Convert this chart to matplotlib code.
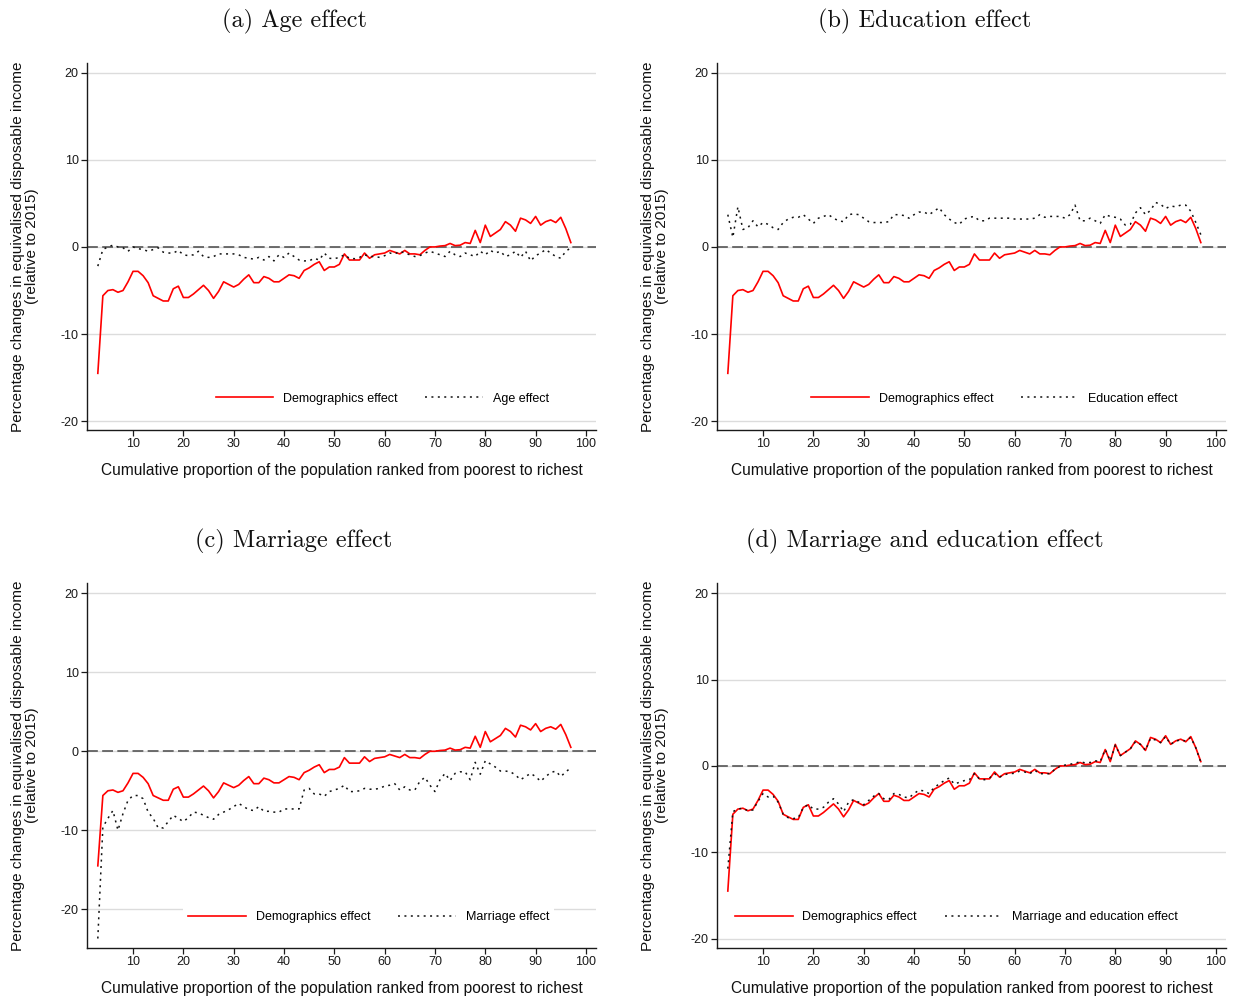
import matplotlib
matplotlib.use("Agg")
import matplotlib.pyplot as plt
import numpy as np

plt.rcParams['font.family'] = ['Liberation Sans', 'DejaVu Sans']
plt.rcParams['axes.unicode_minus'] = False

percentile = list(range(3, 98))

demographics = [-14.5, -5.6, -5.0, -4.9, -5.2, -5.0, -4.0, -2.8, -2.8, -3.3,
                -4.1, -5.6, -5.9, -6.2, -6.2, -4.8, -4.5, -5.8, -5.8, -5.4,
                -4.9, -4.4, -5.0, -5.9, -5.1, -4.0, -4.3, -4.6, -4.3, -3.7,
                -3.2, -4.1, -4.1, -3.4, -3.6, -4.0, -4.0, -3.6, -3.2, -3.3,
                -3.6, -2.7, -2.4, -2.0, -1.7, -2.7, -2.3, -2.3, -2.0, -0.8,
                -1.5, -1.5, -1.5, -0.7, -1.3, -0.9, -0.8, -0.7, -0.4, -0.6,
                -0.8, -0.4, -0.8, -0.8, -0.9, -0.4, 0.0, 0.0, 0.1, 0.15,
                0.4, 0.15, 0.2, 0.5, 0.4, 1.9, 0.5, 2.5, 1.2, 1.6,
                2.0, 2.9, 2.5, 1.8, 3.3, 3.1, 2.7, 3.5, 2.5, 2.9,
                3.1, 2.8, 3.4, 2.1, 0.5]

age_effect = [-2.2, -0.3, 0.0, 0.2, 0.0, -0.1, -0.5, 0.0, -0.2, -0.3,
              -0.5, -0.3, -0.1, -0.6, -0.7, -0.7, -0.4, -0.9, -1.0, -0.9,
              -0.5, -1.1, -1.2, -1.1, -0.8, -0.8, -0.8, -0.8, -0.9, -1.2,
              -1.3, -1.4, -1.2, -1.5, -1.1, -1.6, -0.9, -1.2, -0.7, -1.1,
              -1.5, -1.6, -1.6, -1.3, -1.5, -0.7, -1.3, -1.35, -1.2, -0.9,
              -1.3, -1.35, -1.2, -0.9, -1.1, -1.1, -1.2, -1.0, -0.7, -0.8,
              -0.5, -0.7, -0.9, -1.1, -1.0, -0.7, -0.5, -0.7, -0.9, -1.1,
              -0.5, -0.9, -1.1, -0.7, -0.9, -1.1, -0.5, -0.9, -0.4, -0.7,
              -0.5, -1.1, -0.9, -0.5, -1.2, -0.5, -1.6, -1.0, -0.7, -0.3,
              -0.7, -1.1, -1.3, -0.5, -0.1]

education_effect = [3.7, 1.1, 4.6, 2.0, 2.2, 3.0, 2.3, 2.8, 2.6, 2.2,
                    2.0, 2.8, 3.2, 3.4, 3.4, 3.7, 3.2, 2.7, 3.3, 3.5,
                    3.7, 3.3, 3.0, 2.9, 3.7, 3.8, 3.7, 3.3, 2.9, 2.8,
                    2.8, 2.8, 2.9, 3.7, 3.7, 3.6, 3.3, 3.7, 4.0, 4.0,
                    3.7, 4.1, 4.5, 3.7, 3.2, 2.8, 2.6, 3.2, 3.4, 3.5,
                    3.0, 3.0, 3.3, 3.3, 3.3, 3.3, 3.3, 3.2, 3.2, 3.2,
                    3.2, 3.3, 3.7, 3.4, 3.5, 3.5, 3.5, 3.3, 3.7, 4.8,
                    3.0, 3.0, 3.3, 3.0, 2.7, 3.7, 3.5, 3.4, 3.2, 2.5,
                    2.6, 3.9, 4.5, 3.7, 4.2, 5.1, 4.9, 4.4, 4.7, 4.6,
                    4.8, 4.8, 4.1, 2.8, 1.4]

marriage_effect = [-23.7, -9.6, -8.5, -7.5, -10.0, -7.9, -6.2, -5.6, -5.6, -6.0,
                   -7.7, -8.5, -9.7, -9.7, -8.9, -8.1, -8.5, -8.9, -8.4, -7.7,
                   -7.8, -8.1, -8.4, -8.6, -8.0, -7.7, -7.4, -7.0, -6.6, -7.0,
                   -7.4, -7.5, -7.0, -7.6, -7.6, -7.7, -7.7, -7.3, -7.3, -7.3,
                   -7.3, -4.9, -4.7, -5.4, -5.4, -5.7, -5.1, -4.9, -4.7, -4.3,
                   -5.1, -5.1, -5.0, -4.7, -4.8, -4.8, -4.7, -4.4, -4.3, -4.1,
                   -4.9, -4.5, -4.9, -4.9, -3.8, -3.3, -4.3, -5.1, -3.6, -2.8,
                   -3.7, -2.8, -2.6, -2.6, -3.6, -1.4, -2.9, -1.2, -1.6, -2.0,
                   -2.5, -2.5, -2.6, -3.0, -3.6, -3.2, -2.8, -3.2, -3.8, -3.2,
                   -2.7, -2.5, -3.2, -2.6, -2.1]

marriage_education_effect = [-11.9, -5.3, -5.0, -4.9, -5.2, -5.1, -4.1, -3.2, -3.6, -3.5,
                             -4.2, -5.6, -6.0, -6.1, -6.0, -4.8, -4.5, -5.0, -5.0, -4.8,
                             -4.2, -3.8, -4.4, -5.3, -4.2, -3.9, -4.2, -4.5, -4.0, -3.5,
                             -3.2, -3.8, -3.9, -3.2, -3.3, -3.6, -3.7, -3.2, -2.8, -2.9,
                             -3.2, -2.5, -2.1, -1.7, -1.4, -2.1, -1.9, -1.7, -1.6, -0.9,
                             -1.5, -1.6, -1.4, -0.9, -1.3, -1.0, -0.9, -0.85, -0.6, -0.7,
                             -0.9, -0.5, -0.9, -0.9, -0.9, -0.4, -0.05, 0.1, 0.2, 0.3,
                             0.5, 0.35, 0.4, 0.6, 0.5, 1.9, 0.6, 2.4, 1.2, 1.6,
                             2.0, 2.8, 2.5, 1.8, 3.2, 3.0, 2.7, 3.4, 2.5, 2.9,
                             3.0, 2.9, 3.3, 2.1, 0.4]

titles = ["(a) Age effect", "(b) Education effect",
          "(c) Marriage effect", "(d) Marriage and education effect"]
effect_labels = ["Age effect", "Education effect", "Marriage effect",
                 "Marriage and education effect"]
effects = [age_effect, education_effect, marriage_effect, marriage_education_effect]
x_ticks = [10, 20, 30, 40, 50, 60, 70, 80, 90, 100]
y_ticks = [-20, -10, 0, 10, 20]
x_label = "Cumulative proportion of the population ranked from poorest to richest"
y_label = "Percentage changes in equivalised disposable income\n(relative to 2015)"

W, H = 1235, 1005
fig = plt.figure(figsize=(W / 100, H / 100), dpi=100)

# pixel boxes: left, right, top, bottom
boxes = [(87, 596, 63, 430), (717, 1226, 63, 430),
         (87, 596, 583, 948), (717, 1226, 583, 948)]
ylims = [(-21.0, 21.1), (-21.0, 21.1), (-24.9, 21.3), (-21.1, 21.2)]
title_x = [295, 925, 294, 925]
title_y = [21, 21, 541, 541]
legend_right = [548, 1177, 548, 1177]

for i in range(4):
    l, r, t, b = boxes[i]
    ax = fig.add_axes([l / W, 1 - b / H, (r - l) / W, (b - t) / H])
    ax.set_xlim(0.85, 102)
    ax.set_ylim(*ylims[i])
    ax.set_yticks(y_ticks)
    ax.set_xticks(x_ticks)
    ax.grid(axis='y', color='#dcdcdc', linewidth=1.0, zorder=0)
    ax.set_axisbelow(True)
    for s in ['top', 'right']:
        ax.spines[s].set_visible(False)
    for s in ['left', 'bottom']:
        ax.spines[s].set_color('#1a1a1a')
        ax.spines[s].set_linewidth(1.0)
    ax.tick_params(axis='both', labelsize=9, colors='#1a1a1a', length=4, width=0.9, pad=2)

    ax.axhline(0, color='#555555', linewidth=1.2, linestyle=(0, (6.5, 2.6)), zorder=2)
    ax.plot(percentile, demographics, color='#ff0000', linewidth=1.2,
            label='Demographics effect', zorder=3)
    ax.plot(percentile, effects[i], color='#111111', linewidth=1.1,
            linestyle=(0, (1.3, 2.9)), label=effect_labels[i], zorder=4)

    leg = ax.legend(loc='center right',
                    bbox_to_anchor=((legend_right[i] - l + 6) / (r - l), 0.085),
                    ncol=2, fontsize=9, frameon=True, handlelength=4.6,
                    handletextpad=0.8, columnspacing=2.2, borderpad=0.4,
                    borderaxespad=0)
    leg.get_frame().set_facecolor('white')
    leg.get_frame().set_edgecolor('none')
    leg.get_frame().set_alpha(1.0)

    fig.text(title_x[i] / W, 1 - title_y[i] / H, titles[i], fontfamily='cmr10',
             fontsize=17.5, ha='center', va='center', color='#111111')
    fig.text((l + r) / 2 / W, 1 - (b + 40) / H, x_label, fontsize=11.2,
             ha='center', va='center', color='#111111')
    fig.text((l - 62) / W, 1 - (t + b) / 2 / H, y_label, fontsize=11.1,
             rotation=90, ha='center', va='center', multialignment='center',
             linespacing=1.05, color='#111111')

fig.savefig("out.png", dpi=100, facecolor='white')
